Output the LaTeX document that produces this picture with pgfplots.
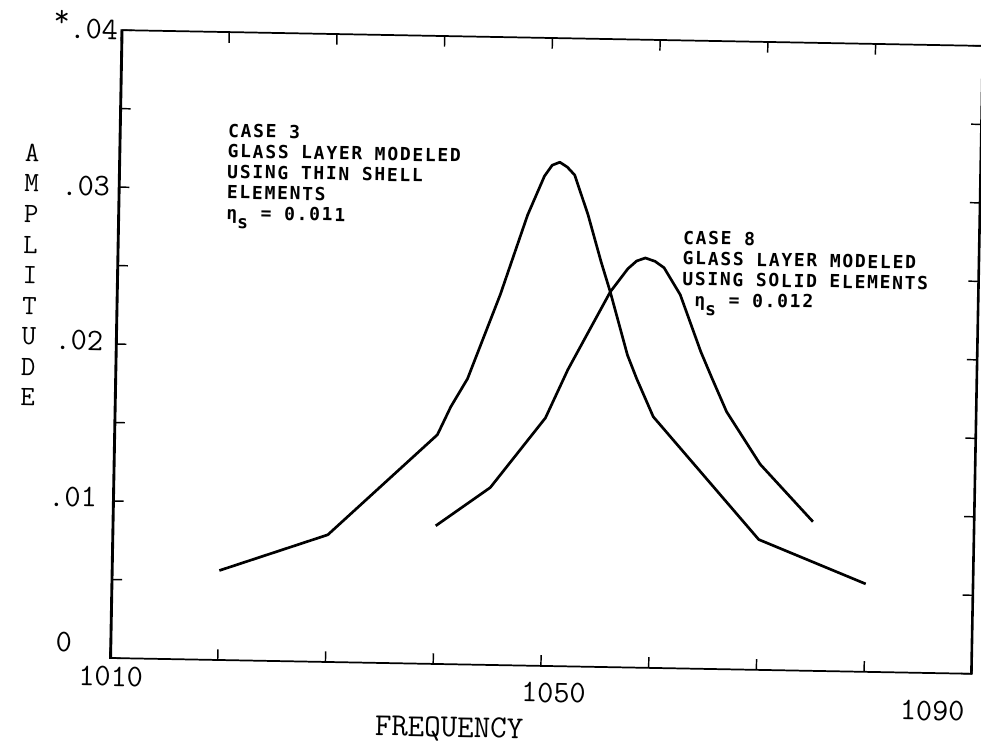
\documentclass[border=0pt]{standalone}
\usepackage{fontspec}
\usepackage{pgfplots}
\usepackage{pgfplotstable}
\pgfplotsset{compat=1.18}
\newfontfamily\annfont{DejaVu Sans Mono}[LetterSpace=9.5]

\pgfplotstableread{
x y
1020 0.0057
1030 0.0081
1040 0.0146
1041.2 0.0164
1042.7 0.0182
1045.6 0.0236
1048.0 0.0287
1049.5 0.0312
1050.2 0.0319
1050.9 0.0321
1051.6 0.0318
1052.3 0.0313
1053.6 0.0288
1054.9 0.0258
1055.8 0.0239
1057.5 0.0199
1058.4 0.0184
1060 0.0160
1070 0.0083
1080 0.0056
}\caseA

\pgfplotstableread{
x y
1040 0.0088
1045 0.0113
1050 0.0158
1052.0 0.0189
1055.8 0.0239
1057.4 0.0254
1058.2 0.0259
1059.0 0.0261
1059.9 0.0259
1060.75 0.0255
1062.3 0.0238
1064.3 0.0202
1065.4 0.0185
1066.8 0.0164
1070 0.0131
1075 0.0095
}\caseB

\begin{document}
\begin{tikzpicture}
\begin{scope}[transform canvas={rotate=-1.05}]
\begin{axis}[
  at={(0,0)}, anchor=south west,
  scale only axis, width=646.5pt, height=471pt,
  xmin=1010, xmax=1090, ymin=0, ymax=0.04,
  scaled y ticks=false, scaled x ticks=false,
  xtick={1010,1020,1030,1040,1050,1060,1070,1080,1090},
  xticklabels={
    {\smash{\rlap{\hspace*{-23.4pt}\raisebox{-21.2pt}{1010}}}},,,,
    {\smash{\rlap{\hspace*{-14.4pt}\raisebox{-27.2pt}{1050}}}},,,,
    {\smash{\rlap{\hspace*{-53.4pt}\raisebox{-35.5pt}{1090}}}}},
  ytick={0,0.005,0.01,0.015,0.02,0.025,0.03,0.035,0.04},
  yticklabels={
    {\smash{\llap{\raisebox{4.25pt}{0}\hspace*{28.7pt}}}},,
    {\smash{\llap{\raisebox{-4.75pt}{.01}\hspace*{12pt}}}},,
    {\smash{\llap{\raisebox{-5pt}{.02}\hspace*{9.5pt}}}},,
    {\smash{\llap{\raisebox{-7pt}{.03}\hspace*{6.5pt}}}},,
    {\smash{\llap{\raisebox{-7pt}{\llap{\raisebox{9pt}{*}}.04}\hspace*{2.6pt}}}}},
  tick align=inside,
  major tick length=8pt,
  tick style={black, line width=1.1pt},
  axis line style={line width=1.3pt},
  tick label style={font=\ttfamily\fontsize{23.5pt}{28pt}\selectfont, inner sep=0pt, anchor=center},
  xlabel={FREQUENCY},
  every axis x label/.style={at={(rel axis cs:0.3948,-0.1035)}, anchor=center,
    font=\ttfamily\fontsize{24pt}{28pt}\selectfont},
  ylabel={A\\M\\P\\L\\I\\T\\U\\D\\E},
  every axis y label/.style={at={(rel axis cs:-0.1009,0.6075)}, anchor=center,
    align=center, font=\ttfamily\fontsize{21pt}{22.95pt}\selectfont},
]
\addplot[black, line width=2pt, line join=round] table {\caseA};
\addplot[black, line width=2pt, line join=round] table {\caseB};
\draw[line width=3pt] (rel axis cs:0,0) -- (rel axis cs:0,1);
\draw[line width=2.6pt] (rel axis cs:1,0) -- (rel axis cs:1,1);
\node[anchor=north west, align=left, inner sep=0pt,
  font=\annfont\bfseries\fontsize{13.5pt}{15.4pt}\selectfont]
  at (axis cs:1020.04,0.03418)
  {CASE 3\\GLASS LAYER MODELED\\USING THIN SHELL\\ELEMENTS\\η\raisebox{-7pt}{s} = 0.011};
\node[anchor=north west, align=left, inner sep=0pt,
  font=\annfont\bfseries\fontsize{13.5pt}{15.4pt}\selectfont]
  at (axis cs:1062.45,0.02789)
  {CASE 8\\GLASS LAYER MODELED\\USING SOLID ELEMENTS\\~η\raisebox{-7pt}{s} = 0.012};
\end{axis}
\end{scope}
\pgfresetboundingbox
\path[use as bounding box] (-82.5pt,-72pt) rectangle (653.25pt,493.5pt);
\end{tikzpicture}
\end{document}
